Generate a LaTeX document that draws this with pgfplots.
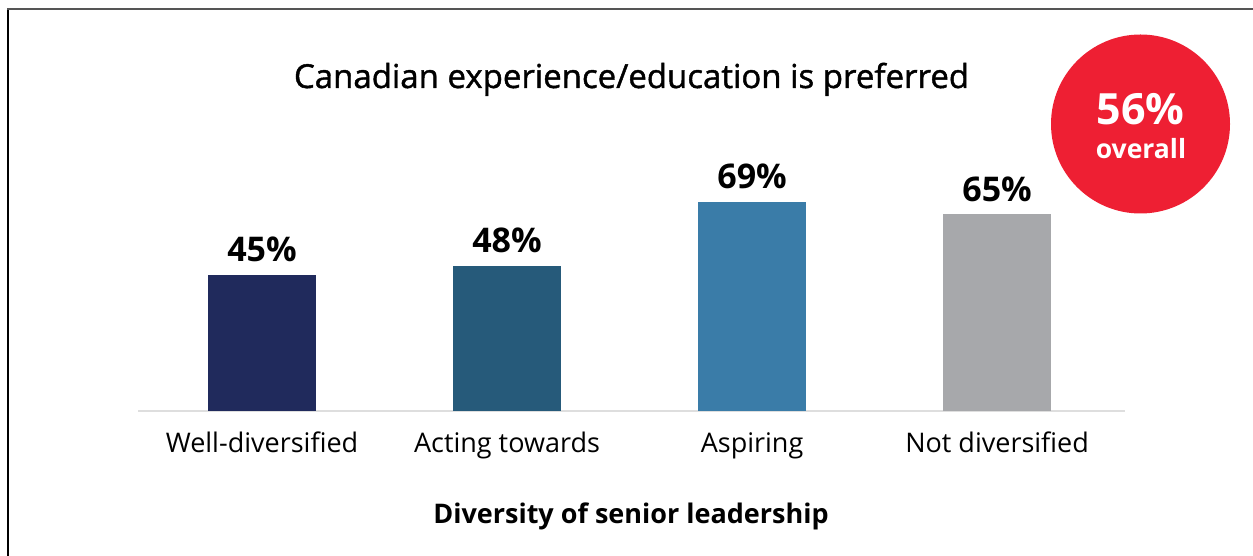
\documentclass[border=0pt]{standalone}
\usepackage{pgfplots}
\pgfplotsset{compat=1.18}
\usepackage{fontspec}
\setmainfont{Open Sans}
\newfontfamily\titlefont{Open Sans}[FakeBold=1.3]
\definecolor{cA}{HTML}{202A5C}
\definecolor{cB}{HTML}{265A7A}
\definecolor{cC}{HTML}{3A7CA8}
\definecolor{cD}{HTML}{A7A8AB}
\definecolor{cR}{HTML}{EE1F33}
\definecolor{frameG}{HTML}{555555}
\begin{document}
\begin{tikzpicture}[x=1pt,y=1pt]
\path[use as bounding box] (0pt,0pt) rectangle (1253pt,556pt);
\draw[black, line width=1.6pt] (7.8pt,0pt) -- (7.8pt,546.5pt);
\draw[frameG, line width=2pt] (7pt,546.5pt) -- (1253pt,546.5pt);
\begin{axis}[
  at={(138pt,145pt)}, anchor=south west,
  width=987pt, height=303pt, scale only axis,
  xmin=-0.506, xmax=3.522, ymin=0, ymax=100,
  hide y axis, axis x line*=bottom,
  x axis line style={-, draw=black!13, line width=2pt},
  xtick={0,1,2,3},
  xticklabels={Well-diversified, Acting towards, Aspiring, Not diversified},
  major tick length=0pt,
  xticklabel style={font=\fontsize{27}{31}\selectfont, anchor=base, yshift=-42pt},
  ybar, bar width=108pt, bar shift=0pt,
  point meta=explicit symbolic,
  nodes near coords={\pgfplotspointmeta\%},
  nodes near coords style={font=\bfseries\fontsize{34}{38}\selectfont, anchor=base, inner sep=0pt, yshift=13pt, black},
  clip=false,
]
\addplot[fill=cA, draw=none] coordinates {(0,45) [45]};
\addplot[fill=cB, draw=none] coordinates {(1,48) [48]};
\addplot[fill=cC, draw=none] coordinates {(2,69) [69]};
\addplot[fill=cD, draw=none] coordinates {(3,65) [65]};
\end{axis}
\node[anchor=base, font=\titlefont\fontsize{33}{38}\selectfont] at (631.5pt,468pt) {Canadian experience/education is preferred};
\node[anchor=base, font=\bfseries\fontsize{27}{31}\selectfont] at (631pt,32pt) {Diversity of senior leadership};
\fill[cR] (1140.5pt,432pt) circle (89.5pt);
\node[anchor=base, text=white, font=\bfseries\fontsize{43}{48}\selectfont] at (1140.5pt,431pt) {56\%};
\node[anchor=base, text=white, font=\bfseries\fontsize{26.5}{30}\selectfont] at (1141pt,397pt) {overall};
\end{tikzpicture}
\end{document}
